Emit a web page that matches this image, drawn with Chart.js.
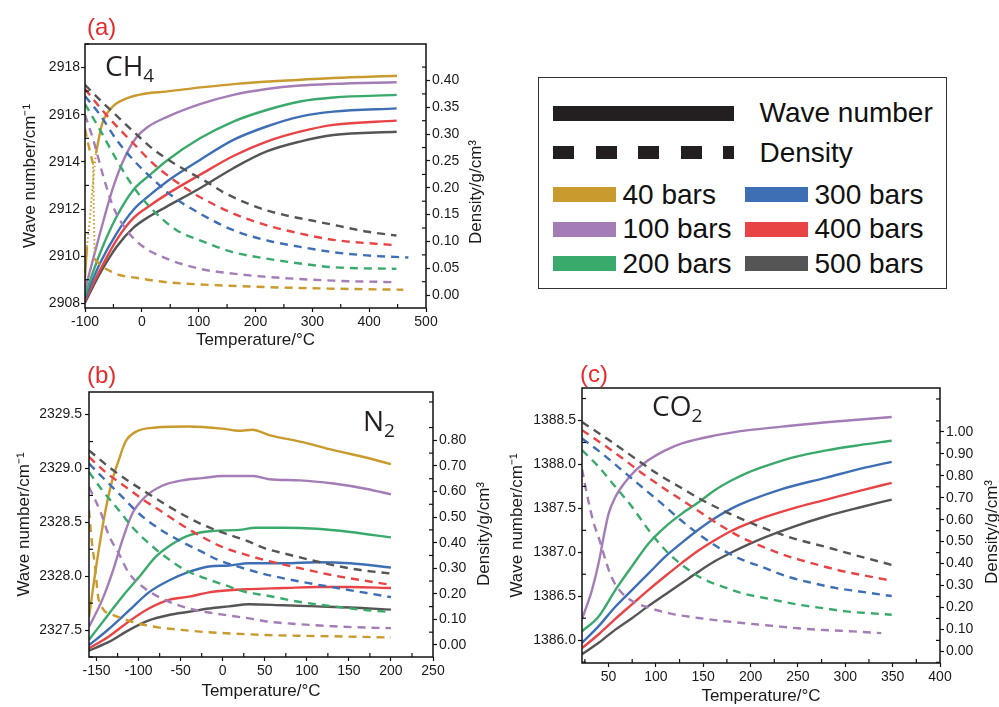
<!DOCTYPE html>
<html><head><meta charset="utf-8">
<script src="https://cdn.jsdelivr.net/npm/chart.js@4.4.1/dist/chart.umd.min.js"></script>
<style>
body{margin:0;background:#fff;width:999px;height:707px;overflow:hidden;position:relative;font-family:"Liberation Sans",Arial,sans-serif;}
canvas{position:absolute;}
.plab{position:absolute;color:#e8292c;font-size:24px;line-height:24px;font-family:"Liberation Sans",Arial,sans-serif;}
.gas{position:absolute;font-family:"Open Sans",sans-serif;font-size:28px;line-height:28px;color:#231f20;white-space:nowrap;}
.gas span{font-size:19px;position:relative;top:6px;}
#legend{position:absolute;left:538px;top:77px;width:407px;height:210px;border:1.5px solid #333;}
#legend div{position:absolute;}
#legend .t{font-size:28px;line-height:30px;color:#111;white-space:nowrap;}
</style></head>
<body>
<canvas id="ca" width="500" height="355" style="left:0;top:0"></canvas>
<canvas id="cb" width="500" height="352" style="left:0;top:355px"></canvas>
<canvas id="cc" width="499" height="352" style="left:500px;top:355px"></canvas>

<div class="plab" style="left:87px;top:15px">(a)</div>
<div class="plab" style="left:87px;top:363px">(b)</div>
<div class="plab" style="left:580px;top:362px">(c)</div>
<div class="gas" style="left:105px;top:51px">CH<span>4</span></div>
<div class="gas" style="left:363px;top:406px">N<span>2</span></div>
<div class="gas" style="left:652px;top:391px">CO<span>2</span></div>

<div id="legend"></div>

<script>
// ---------------- DATA ----------------
const seriesNames = ['40 bars','100 bars','200 bars','300 bars','400 bars','500 bars'];
const seriesColors = ['#C99A2E','#A47DB6','#3AAA6C','#3E6FB4','#E84446','#555555'];

// (a) CH4 : [temperature °C, wave number cm-1]
const ch4Wave40a = [[-100,2909.07],[-96.5,2910.4]];
const ch4Wave40dot = [[-96.5,2910.4],[-92,2911.4],[-88,2912.6],[-84,2913.6],[-80.6,2914.37]];
const ch4Wave40b = [[-80.6,2914.37],[-70,2915.6],[-53,2916.3],[-28,2916.68],[7,2916.9],[42,2916.98],[104,2917.16],[166,2917.31],[254,2917.45],[337,2917.56],[449,2917.65]];
const ch4Wave100 = [[-100,2908.57],[-73.6,2910.97],[-50.1,2912.95],[-26.7,2914.36],[-9.1,2915.05],[8.5,2915.45],[43.7,2915.9],[102.3,2916.45],[161,2916.84],[219.6,2917.09],[278.3,2917.24],[337,2917.31],[448.4,2917.38]];
const ch4Wave200 = [[-100,2908.35],[-73.6,2910.12],[-44.3,2911.68],[-15,2912.81],[14.4,2913.45],[43.7,2914.05],[102.3,2915.0],[161,2915.71],[219.6,2916.2],[278.3,2916.56],[337,2916.73],[448.4,2916.84]];
const ch4Wave300 = [[-100,2908.21],[-73.6,2909.7],[-44.3,2910.97],[-15,2911.96],[14.4,2912.6],[43.7,2913.16],[102.3,2914.08],[161,2914.93],[219.6,2915.5],[278.3,2915.92],[337,2916.13],[448.4,2916.27]];
const ch4Wave400 = [[-100,2908.11],[-73.6,2909.41],[-44.3,2910.69],[-15,2911.61],[14.4,2912.15],[43.7,2912.62],[102.3,2913.45],[161,2914.25],[219.6,2914.86],[278.3,2915.28],[337,2915.57],[448.4,2915.75]];
const ch4Wave500 = [[-100,2908.03],[-73.6,2909.27],[-44.3,2910.4],[-15,2911.2],[14.4,2911.7],[43.7,2912.1],[102.3,2912.88],[161,2913.73],[219.6,2914.44],[278.3,2914.86],[337,2915.14],[448.4,2915.28]];
// (a) CH4 : [temperature °C, density g/cm3]
const ch4Dens40a = [[-100,0.31],[-96,0.29],[-90,0.262],[-86,0.246]];
const ch4Dens40dot = [[-86,0.246],[-85,0.19],[-84,0.13],[-83,0.075]];
const ch4Dens40b = [[-83,0.068],[-73,0.056],[-52,0.043],[-38,0.037],[-15,0.033],[44,0.024],[102,0.020],[220,0.015],[337,0.012],[460,0.010]];
const ch4Dens100 = [[-100,0.336],[-85.3,0.289],[-67.7,0.221],[-50.1,0.164],[-26.7,0.121],[2.6,0.090],[43.7,0.068],[102.3,0.049],[161,0.040],[219.6,0.034],[337,0.027],[448.4,0.024]];
const ch4Dens200 = [[-100,0.356],[-73.6,0.308],[-44.3,0.252],[-15,0.202],[14.4,0.164],[61.3,0.121],[102.3,0.102],[161,0.080],[219.6,0.068],[278.3,0.059],[337,0.052],[448,0.049]];
const ch4Dens300 = [[-100,0.371],[-73.6,0.336],[-44.3,0.289],[-15,0.252],[14.4,0.221],[55.4,0.183],[102.3,0.152],[161,0.121],[219.6,0.102],[278.3,0.090],[337,0.080],[395.6,0.074],[469,0.070]];
const ch4Dens400 = [[-100,0.384],[-70,0.345],[-40,0.31],[-15,0.283],[20,0.245],[61,0.211],[102,0.183],[161,0.152],[220,0.130],[278,0.115],[337,0.103],[448,0.093]];
const ch4Dens500 = [[-100,0.392],[-70,0.36],[-40,0.33],[-10,0.30],[20,0.272],[50,0.25],[85,0.228],[114,0.211],[143,0.192],[205,0.163],[252,0.149],[299,0.139],[346,0.129],[398,0.118],[448,0.111]];

// (b) N2
const n2Wave40 = [[-159,2327.62],[-149.3,2328.15],[-139.4,2328.61],[-131.4,2328.89],[-123.5,2329.08],[-115.5,2329.25],[-103.6,2329.34],[-79.8,2329.38],[-40.2,2329.39],[-0.5,2329.37],[19.4,2329.35],[35.2,2329.36],[55.1,2329.31],[92,2329.25],[131.7,2329.17],[171.4,2329.1],[200,2329.04]];
const n2Wave100 = [[-159,2327.53],[-143.3,2327.78],[-131.4,2328.03],[-119.5,2328.33],[-107.6,2328.58],[-91.7,2328.74],[-71.9,2328.84],[-48.1,2328.89],[-24.3,2328.91],[-0.5,2328.93],[23.3,2328.93],[36.5,2328.93],[55.1,2328.90],[92,2328.89],[131.7,2328.86],[171.4,2328.81],[200,2328.76]];
const n2Wave200 = [[-159,2327.41],[-135.4,2327.65],[-119.5,2327.81],[-99.7,2327.99],[-79.8,2328.18],[-60,2328.30],[-40.2,2328.38],[-12.4,2328.42],[19.4,2328.43],[39.2,2328.45],[72,2328.45],[111.9,2328.44],[151.6,2328.41],[200,2328.36]];
const n2Wave300 = [[-159,2327.36],[-135.4,2327.51],[-111.6,2327.68],[-87.8,2327.85],[-64,2327.96],[-40.2,2328.04],[-16.3,2328.09],[7.5,2328.10],[31.3,2328.12],[72.2,2328.12],[111.9,2328.13],[151.6,2328.12],[200,2328.08]];
const n2Wave400 = [[-159,2327.33],[-135.4,2327.44],[-111.6,2327.58],[-87.8,2327.70],[-64,2327.78],[-40.2,2327.81],[-16.3,2327.85],[7.5,2327.87],[31.3,2327.88],[72,2327.89],[111.9,2327.9],[151.6,2327.9],[200,2327.89]];
const n2Wave500 = [[-159,2327.31],[-135.4,2327.39],[-111.6,2327.50],[-87.8,2327.59],[-64,2327.64],[-40.2,2327.67],[-16.3,2327.70],[7.5,2327.72],[31.3,2327.74],[72,2327.73],[111.9,2327.72],[151.6,2327.71],[200,2327.69]];
const n2Dens40 = [[-159,0.527],[-156,0.416],[-152,0.311],[-147.3,0.175],[-129.4,0.116],[-102.8,0.086],[-75,0.068],[-48.9,0.059],[-22.3,0.051],[3.5,0.046],[29.3,0.042],[51.1,0.039],[92,0.036],[131.7,0.034],[200,0.029]];
const n2Dens100 = [[-159,0.618],[-145.3,0.52],[-135.4,0.429],[-123.5,0.357],[-111.6,0.281],[-92.5,0.221],[-71.9,0.181],[-44.1,0.146],[-20.3,0.129],[7.5,0.115],[35.2,0.102],[52.4,0.092],[92,0.081],[131.7,0.073],[171.4,0.068],[200,0.066]];
const n2Dens200 = [[-159,0.676],[-143.3,0.605],[-123.5,0.527],[-107.6,0.461],[-89.8,0.403],[-67.9,0.344],[-44.1,0.292],[-20.3,0.26],[3.5,0.233],[27.3,0.207],[51.1,0.194],[92,0.168],[131.7,0.151],[171.4,0.136],[200,0.129]];
const n2Dens300 = [[-159,0.709],[-139.4,0.644],[-119.5,0.579],[-99.7,0.514],[-75.9,0.455],[-52,0.409],[-28.2,0.37],[-4.4,0.331],[19.4,0.305],[47.2,0.279],[92,0.248],[131.7,0.225],[171.4,0.203],[200,0.187]];
const n2Dens400 = [[-159,0.735],[-139.4,0.676],[-115.5,0.618],[-93.7,0.566],[-71.9,0.52],[-48.1,0.468],[-24.3,0.422],[-0.5,0.383],[23.3,0.357],[51.1,0.331],[92,0.300],[131.7,0.272],[171.4,0.25],[200,0.235]];
const n2Dens500 = [[-159,0.761],[-135.4,0.696],[-113.6,0.644],[-91.7,0.598],[-69.9,0.553],[-46.1,0.507],[-22.3,0.468],[3.5,0.435],[27.3,0.409],[51.1,0.377],[74.2,0.357],[106,0.331],[153.6,0.298],[200,0.279]];

// (c) CO2
const co2Wave100 = [[22,1386.24],[32.5,1386.57],[39.6,1386.88],[44.9,1387.18],[50.1,1387.44],[57.2,1387.63],[67.7,1387.8],[78.3,1387.93],[92.3,1388.05],[109.9,1388.16],[127.5,1388.24],[162.6,1388.33],[197.8,1388.39],[233,1388.43],[280,1388.48],[349,1388.54]];
const co2Wave200 = [[22,1386.10],[39.6,1386.27],[57.2,1386.57],[74.7,1386.84],[92.3,1387.10],[109.9,1387.29],[127.5,1387.44],[145.1,1387.57],[162.6,1387.71],[180.2,1387.82],[197.8,1387.91],[215.4,1387.98],[245,1388.08],[280,1388.16],[315.2,1388.22],[349,1388.27]];
const co2Wave300 = [[22,1385.97],[39.6,1386.16],[57.2,1386.38],[74.7,1386.57],[92.3,1386.76],[109.9,1386.95],[127.5,1387.11],[145.1,1387.26],[162.6,1387.39],[180.2,1387.50],[197.8,1387.585],[233,1387.72],[280,1387.85],[315.2,1387.95],[349,1388.03]];
const co2Wave400 = [[22,1385.91],[40,1386.07],[57,1386.24],[75,1386.41],[92,1386.57],[110,1386.73],[127.5,1386.88],[145,1387.02],[162.6,1387.14],[180,1387.245],[198,1387.33],[215,1387.40],[245,1387.50],[280,1387.60],[315,1387.70],[349,1387.79]];
const co2Wave500 = [[22,1385.84],[39.6,1385.97],[57.2,1386.12],[74.7,1386.25],[92.3,1386.39],[109.9,1386.52],[127.5,1386.65],[145.1,1386.78],[162.6,1386.90],[180.2,1387.0],[197.8,1387.09],[215,1387.17],[245,1387.29],[280,1387.41],[315,1387.51],[349,1387.60]];
const co2Dens100 = [[22,0.83],[28,0.70],[34,0.59],[41,0.50],[48,0.40],[53,0.34],[59,0.293],[71,0.240],[94,0.197],[117,0.171],[145,0.152],[180,0.134],[219,0.118],[259,0.102],[284,0.096],[308,0.091],[338,0.083]];
const co2Dens200 = [[22,0.917],[39.6,0.841],[57.2,0.75],[74.7,0.659],[92.3,0.553],[109.9,0.462],[127.5,0.394],[148.6,0.333],[169.7,0.296],[190.8,0.265],[215,0.243],[251.7,0.212],[276.3,0.197],[300.9,0.182],[325.5,0.174],[349,0.167]];
const co2Dens300 = [[22,0.97],[43,0.902],[64,0.826],[85,0.75],[106,0.674],[127.5,0.594],[148.6,0.523],[169.7,0.464],[190.8,0.418],[211.9,0.385],[241,0.338],[266,0.311],[290.6,0.288],[315.2,0.273],[349,0.252]];
const co2Dens400 = [[22,1.008],[43,0.947],[64,0.882],[85,0.813],[106,0.75],[127.5,0.689],[148.6,0.629],[169.7,0.57],[190.8,0.518],[211.9,0.478],[233,0.443],[252,0.417],[273,0.392],[297.6,0.365],[320,0.346],[349,0.322]];
const co2Dens500 = [[22,1.045],[43,0.985],[64,0.922],[85,0.858],[106,0.797],[127.5,0.743],[148.6,0.69],[169.7,0.644],[190.8,0.603],[211.9,0.565],[245,0.515],[280,0.475],[315,0.433],[349,0.394]];

// tick labels
const ch4TempTicks = [-100,0,100,200,300,400,500];
const ch4WaveTicks = [2908,2910,2912,2914,2916,2918];
const ch4DensTicks = [0,0.05,0.10,0.15,0.20,0.25,0.30,0.35,0.40];
const n2TempTicks = [-150,-100,-50,0,50,100,150,200,250];
const n2WaveTicks = [2327.5,2328.0,2328.5,2329.0,2329.5];
const n2DensTicks = [0,0.1,0.2,0.3,0.4,0.5,0.6,0.7,0.8];
const co2TempTicks = [50,100,150,200,250,300,350,400];
const co2WaveTicks = [1386.0,1386.5,1387.0,1387.5,1388.0,1388.5];
const co2DensTicks = [0,0.1,0.2,0.3,0.4,0.5,0.6,0.7,0.8,0.9,1.0];

// ---------------- RENDER ----------------
Chart.defaults.font.family = "'Liberation Sans', Arial, sans-serif";
Chart.defaults.color = '#1a1a1a';

const pts = arr => arr.map(([x, y]) => ({x, y}));
function solid(arr, color){ return {data: pts(arr), borderColor: color, borderWidth: 2.4, pointRadius: 0, fill: false, cubicInterpolationMode: 'monotone', yAxisID: 'y'}; }
function dashed(arr, color){ return {data: pts(arr), borderColor: color, borderWidth: 2.4, borderDash: [8, 6], pointRadius: 0, fill: false, cubicInterpolationMode: 'monotone', yAxisID: 'y1'}; }
function dotted(arr, color, axis){ return {data: pts(arr), borderColor: color, borderWidth: 2, borderDash: [1.5, 2.5], pointRadius: 0, fill: false, yAxisID: axis}; }

const framePlugin = {
  id: 'frame',
  afterDraw(chart, args, opts) {
    const ctx = chart.ctx, a = chart.chartArea;
    ctx.save();
    ctx.strokeStyle = '#111';
    ctx.lineWidth = 1.5;
    ctx.strokeRect(a.left, a.top, a.right - a.left, a.bottom - a.top);
    ctx.lineWidth = 1.2;
    for (const id of ['x', 'y', 'y1']) {
      const s = chart.scales[id];
      const vals = s.ticks.map(t => t.value);
      const step = vals[1] - vals[0];
      const n0 = Math.ceil((s.min - vals[0]) / step - 0.5);
      for (let k = n0; ; k++) {
        const v = vals[0] + (k + 0.5) * step;
        if (v > s.max) break;
        if (v < s.min) continue;
        const p = s.getPixelForValue(v);
        ctx.beginPath();
        if (id === 'x') { ctx.moveTo(p, a.bottom); ctx.lineTo(p, a.bottom - 4); }
        else if (id === 'y') { ctx.moveTo(a.left, p); ctx.lineTo(a.left + 4, p); }
        else { ctx.moveTo(a.right, p); ctx.lineTo(a.right - 4, p); }
        ctx.stroke();
      }
    }
    if (opts.rightTitle) {
      const t = opts.rightTitle;
      ctx.translate(t.x, t.y);
      ctx.rotate(-Math.PI / 2);
      ctx.fillStyle = '#1a1a1a';
      ctx.font = "17px 'Liberation Sans', Arial, sans-serif";
      ctx.textAlign = 'center';
      ctx.textBaseline = 'middle';
      ctx.fillText(t.text, 0, 0);
    }
    ctx.restore();
  }
};

function axisCommon(ticksArr, fmt, tickPad){
  return {
    type: 'linear',
    afterBuildTicks: s => { s.ticks = ticksArr.map(v => ({value: v})); },
    grid: {drawOnChartArea: false, tickLength: 4, tickColor: '#111', tickWidth: 1.2},
    border: {display: false},
    ticks: {padding: tickPad, color: '#1a1a1a', font: {size: 14}, callback: v => fmt(v)}
  };
}

function buildPanel(id, p){
  const x = axisCommon(p.xTicks, v => String(v), 2);
  Object.assign(x, {min: p.xMin, max: p.xMax, afterFit: s => { s.height = p.xH; },
    title: {display: true, text: 'Temperature/°C', color: '#1a1a1a', font: {size: 17}, padding: {top: 0, bottom: p.xTitlePad}}});
  const y = axisCommon(p.yTicks, p.yFmt, p.yPad);
  Object.assign(y, {position: 'left', min: p.yMin, max: p.yMax, afterFit: s => { s.width = p.yW; },
    title: {display: true, text: 'Wave number/cm⁻¹', color: '#1a1a1a', font: {size: 17}, padding: {top: p.yTitlePad, bottom: 0}}});
  const y1 = axisCommon(p.y1Ticks, v => v.toFixed(2), 2);
  Object.assign(y1, {position: 'right', min: p.y1Min, max: p.y1Max, afterFit: s => { s.width = p.y1W; }});
  return new Chart(document.getElementById(id), {
    type: 'line',
    data: {datasets: p.datasets},
    options: {
      responsive: false, animation: false,
      layout: {padding: {top: p.padTop, left: 0, right: 0, bottom: 0}},
      plugins: {legend: {display: false}, tooltip: {enabled: false}, frame: {rightTitle: p.rightTitle}},
      scales: {x, y, y1}
    },
    plugins: [framePlugin]
  });
}

const C = seriesColors;
buildPanel('ca', {
  xMin: -100, xMax: 500, xTicks: ch4TempTicks, xH: 47, xTitlePad: 4,
  yMin: 2907.8, yMax: 2919.0, yTicks: ch4WaveTicks, yFmt: v => String(v), yW: 85, yPad: 1, yTitlePad: 20,
  y1Min: -0.024, y1Max: 0.468, y1Ticks: ch4DensTicks, y1W: 74,
  padTop: 44, rightTitle: {text: 'Density/g/cm³', x: 476, y: 192},
  datasets: [
    dashed(ch4Dens40a, C[0]), dotted(ch4Dens40dot, C[0], 'y1'), dashed(ch4Dens40b, C[0]),
    dashed(ch4Dens100, C[1]), dashed(ch4Dens200, C[2]), dashed(ch4Dens300, C[3]), dashed(ch4Dens400, C[4]), dashed(ch4Dens500, C[5]),
    solid(ch4Wave40a, C[0]), dotted(ch4Wave40dot, C[0], 'y'), solid(ch4Wave40b, C[0]),
    solid(ch4Wave100, C[1]), solid(ch4Wave200, C[2]), solid(ch4Wave300, C[3]), solid(ch4Wave400, C[4]), solid(ch4Wave500, C[5])
  ]
});
buildPanel('cb', {
  xMin: -159, xMax: 250, xTicks: n2TempTicks, xH: 50, xTitlePad: 5,
  yMin: 2327.25, yMax: 2329.71, yTicks: n2WaveTicks, yFmt: v => v.toFixed(1), yW: 89, yPad: 3, yTitlePad: 14,
  y1Min: -0.047, y1Max: 0.989, y1Ticks: n2DensTicks, y1W: 67,
  padTop: 37, rightTitle: {text: 'Density/g/cm³', x: 484, y: 179},
  datasets: [
    dashed(n2Dens40, C[0]), dashed(n2Dens100, C[1]), dashed(n2Dens200, C[2]), dashed(n2Dens300, C[3]), dashed(n2Dens400, C[4]), dashed(n2Dens500, C[5]),
    solid(n2Wave40, C[0]), solid(n2Wave100, C[1]), solid(n2Wave200, C[2]), solid(n2Wave300, C[3]), solid(n2Wave400, C[4]), solid(n2Wave500, C[5])
  ]
});
buildPanel('cc', {
  xMin: 22, xMax: 400, xTicks: co2TempTicks, xH: 44, xTitlePad: 0,
  yMin: 1385.74, yMax: 1388.87, yTicks: co2WaveTicks, yFmt: v => v.toFixed(1), yW: 82, yPad: 2, yTitlePad: 7,
  y1Min: -0.053, y1Max: 1.2, y1Ticks: co2DensTicks, y1W: 59,
  padTop: 33, rightTitle: {text: 'Density/g/cm³', x: 492, y: 177},
  datasets: [
    dashed(co2Dens100, C[1]), dashed(co2Dens200, C[2]), dashed(co2Dens300, C[3]), dashed(co2Dens400, C[4]), dashed(co2Dens500, C[5]),
    solid(co2Wave100, C[1]), solid(co2Wave200, C[2]), solid(co2Wave300, C[3]), solid(co2Wave400, C[4]), solid(co2Wave500, C[5])
  ]
});

// ---------------- LEGEND ----------------
(function(){
  const L = document.getElementById('legend');
  const ox = 539.5, oy = 78.5;
  const add = (html) => { L.insertAdjacentHTML('beforeend', html); };
  add(`<div style="left:${553-ox}px;top:${106-oy}px;width:181px;height:15px;background:#231f20"></div>`);
  add(`<div class="t" style="left:${760-ox}px;top:${113-15-oy}px">Wave number</div>`);
  [[553,21],[596,21],[638,21],[681,21],[723,11]].forEach(([x,w]) =>
    add(`<div style="left:${x-ox}px;top:${146-oy}px;width:${w}px;height:13px;background:#231f20"></div>`));
  add(`<div class="t" style="left:${760-ox}px;top:${153-15-oy}px">Density</div>`);
  const rows = [195, 229.5, 264];
  seriesNames.forEach((name, i) => {
    const col = Math.floor(i / 3), row = i % 3;
    const sx = col ? 745 : 553, tx = col ? 815 : 623;
    add(`<div style="left:${sx-ox}px;top:${rows[row]-7.5-oy}px;width:63px;height:15px;background:${seriesColors[i]}"></div>`);
    add(`<div class="t" style="left:${tx-ox}px;top:${rows[row]-15-oy}px">${name}</div>`);
  });
})();
</script>
</body></html>
